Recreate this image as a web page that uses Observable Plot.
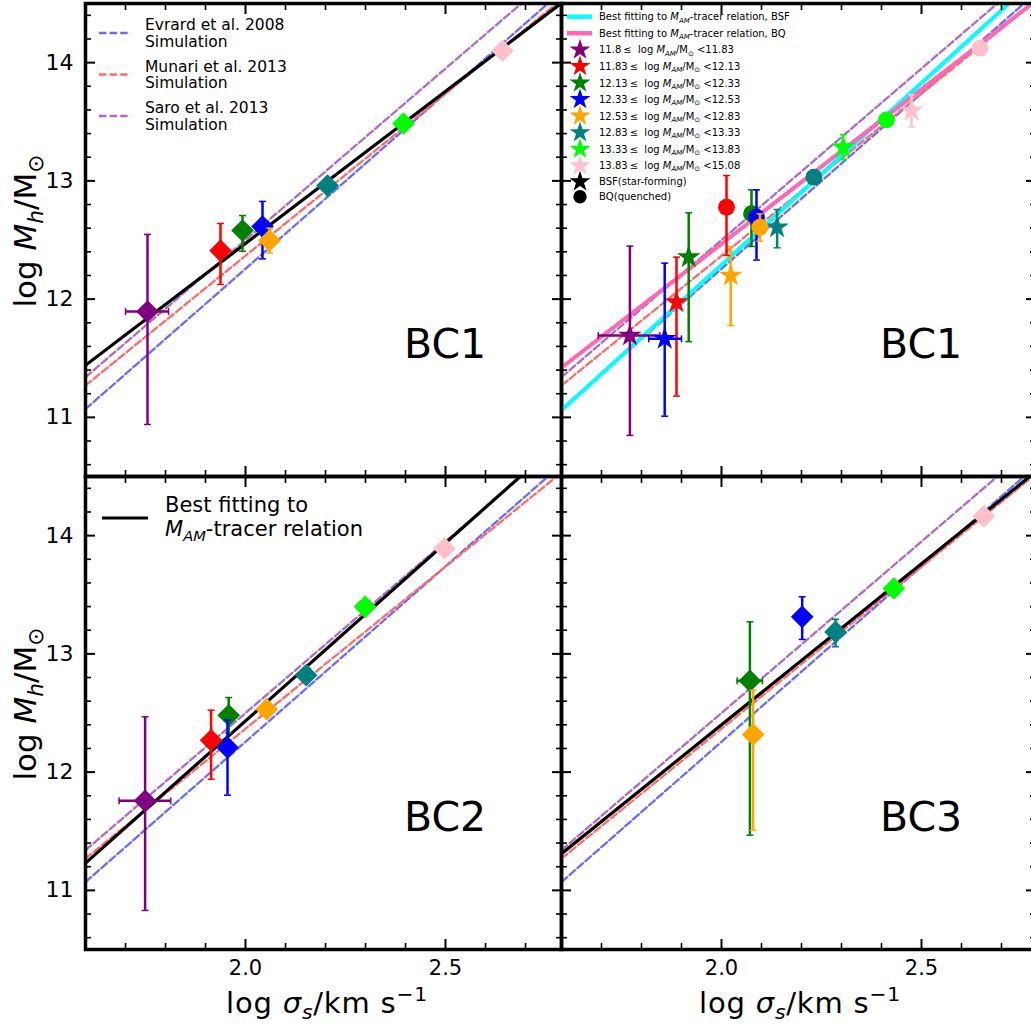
<!DOCTYPE html>
<html><head><meta charset="utf-8">
<script src="https://cdn.jsdelivr.net/npm/d3@7"></script>
<script src="https://cdn.jsdelivr.net/npm/@observablehq/plot@0.6"></script>
<style>
html,body{margin:0;padding:0;background:#fff;overflow:hidden;}
#fig{position:relative;width:1031px;height:1025px;overflow:hidden;background:#fff;font-family:"DejaVu Sans",sans-serif;}
#fig svg text{white-space:pre;}
</style></head>
<body><div id="fig"></div>
<script>
// ---------------- data ----------------
const binColors = ["purple","red","green","blue","orange","teal","lime","pink"];
const binLower  = ["11.8","11.83","12.13","12.33","12.53","12.83","13.33","13.83"];
const binUpper  = ["11.83","12.13","12.33","12.53","12.83","13.33","13.83","15.08"];

// straight relations, read at log sigma = 1.6 and 2.8
const lineX    = [1.6, 2.8];
const evrardY  = [11.07, 14.63];
const munariY  = [11.27, 14.56];
const saroY    = [11.34, 14.82];
const fitBC1Y  = [11.44, 14.53];
const fitBC2Y  = [11.23, 14.84];
const fitBC3Y  = [11.31, 14.58];
const fitBSFY  = [11.06, 14.75];
const fitBQY   = [11.42, 14.56];

// BC1 (all galaxies)
const bc1Bin = [0,1,2,3,4,5,6,7];
const bc1X   = [1.755, 1.9375, 1.9925, 2.0425, 2.06, 2.205, 2.395, 2.6425];
const bc1Y   = [11.895, 12.41, 12.58, 12.614, 12.496, 12.96, 13.485, 14.10];
const bc1YLo = [10.94, 12.124, 12.405, 12.34, 12.39, 12.91, 13.45, 14.07];
const bc1YHi = [12.547, 12.64, 12.707, 12.826, 12.60, 13.01, 13.52, 14.13];
const bc1XLo = [1.70, null, null, null, null, null, null, null];
const bc1XHi = [1.8075, null, null, null, null, null, null, null];

// BC2
const bc2Bin = [0,1,2,3,4,5,6,7];
const bc2X   = [1.749, 1.914, 1.958, 1.955, 2.053, 2.1517, 2.299, 2.4975];
const bc2Y   = [11.757, 12.27, 12.481, 12.208, 12.532, 12.82, 13.398, 13.891];
const bc2YLo = [10.83, 11.94, 12.33, 11.805, 12.47, 12.78, 13.36, 13.86];
const bc2YHi = [12.468, 12.524, 12.631, 12.44, 12.59, 12.86, 13.43, 13.92];
const bc2XLo = [1.684, null, null, null, null, null, null, null];
const bc2XHi = [1.813, null, null, null, null, null, null, null];

// BC3
const bc3Bin = [2,3,4,5,6,7];
const bc3X   = [2.071, 2.2017, 2.079, 2.285, 2.431, 2.656];
const bc3Y   = [12.772, 13.313, 12.318, 13.186, 13.553, 14.164];
const bc3YLo = [11.467, 13.122, 11.509, 13.06, 13.52, 14.13];
const bc3YHi = [13.271, 13.483, 12.693, 13.293, 13.59, 14.20];
const bc3XLo = [2.039, null, null, null, null, null];
const bc3XHi = [2.1025, null, null, null, null, null];

// BC1 split: BSF (stars)
const bsfBin = [0,1,2,3,4,5,6,7];
const bsfX   = [1.771, 1.8875, 1.918, 1.858, 2.023, 2.139, 2.304, 2.475];
const bsfY   = [11.692, 11.974, 12.355, 11.664, 12.20, 12.608, 13.285, 13.595];
const bsfYLo = [10.847, 11.18, 11.64, 11.01, 11.777, 12.434, 13.178, 13.454];
const bsfYHi = [12.448, 12.355, 12.73, 12.304, 12.445, 12.758, 13.39, 13.728];
const bsfXLo = [1.692, null, null, 1.818, null, null, null, null];
const bsfXHi = [1.846, null, null, 1.90, null, null, null, null];

// BC1 split: BQ (circles)
const bqBin = [1,2,3,4,5,6,7];
const bqX   = [2.0125, 2.075, 2.0875, 2.096, 2.231, 2.4125, 2.646];
const bqY   = [12.777, 12.722, 12.693, 12.608, 13.031, 13.516, 14.122];
const bqYLo = [12.369, 12.445, 12.33, 12.49, 12.99, 13.48, 14.09];
const bqYHi = [13.045, 12.924, 12.924, 12.721, 13.07, 13.55, 14.15];

// tick values
const xMajor = [2.0, 2.5];
const xMinor = [1.7, 1.8, 1.9, 2.1, 2.2, 2.3, 2.4, 2.6, 2.7];
const yMajor = [11, 12, 13, 14];
const yMinor = [10.6, 10.8, 11.2, 11.4, 11.6, 11.8, 12.2, 12.4, 12.6, 12.8, 13.2, 13.4, 13.6, 13.8, 14.2, 14.4];

// ---------------- helpers ----------------
const fig = document.getElementById("fig");
const cEvrard = "#6a6aff", cMunari = "#ff6a6a", cSaro = "#ad6bc4";
const dash = "7.4,3.2";
const capH = {draw(ctx){ctx.moveTo(-3.5,0); ctx.lineTo(3.5,0);}};
const capV = {draw(ctx){ctx.moveTo(0,-3.5); ctx.lineTo(0,3.5);}};

function rowsOf(bins, X, Y, YLo, YHi, XLo, XHi) {
  return bins.map((b, i) => ({color: binColors[b], x: X[i], y: Y[i], ylo: YLo[i], yhi: YHi[i],
    xlo: XLo ? XLo[i] : null, xhi: XHi ? XHi[i] : null}));
}
function lineMark(Y, stroke, strokeWidth, dasharray) {
  const data = lineX.map((x, i) => ({x, y: Y[i]}));
  return Plot.line(data, {x: "x", y: "y", stroke, strokeWidth, strokeDasharray: dasharray, clip: true});
}
function pointMarks(rows, symbol, r) {
  const m = [];
  for (const d of rows) {
    const data = [d];
    m.push(Plot.ruleX(data, {x: "x", y1: "ylo", y2: "yhi", stroke: d.color, strokeWidth: 2.5, clip: true}));
    m.push(Plot.dot(data, {x: "x", y: "ylo", symbol: capH, r: 4, stroke: d.color, strokeWidth: 1.5, fill: "none", clip: true}));
    m.push(Plot.dot(data, {x: "x", y: "yhi", symbol: capH, r: 4, stroke: d.color, strokeWidth: 1.5, fill: "none", clip: true}));
    if (d.xlo != null) {
      m.push(Plot.ruleY(data, {y: "y", x1: "xlo", x2: "xhi", stroke: d.color, strokeWidth: 2.5, clip: true}));
      m.push(Plot.dot(data, {x: "xlo", y: "y", symbol: capV, r: 4, stroke: d.color, strokeWidth: 1.5, fill: "none", clip: true}));
      m.push(Plot.dot(data, {x: "xhi", y: "y", symbol: capV, r: 4, stroke: d.color, strokeWidth: 1.5, fill: "none", clip: true}));
    }
    m.push(Plot.dot(data, {x: "x", y: "y", symbol, r, fill: d.color, stroke: "none", clip: true}));
  }
  return m;
}
const noText = () => "";
function axes(labelLeft, labelBottom) {
  const m = [];
  for (const a of ["top", "bottom"]) {
    m.push(Plot.axisX(xMinor, {anchor: a, tickSize: -6, strokeWidth: 1.6, tickFormat: noText, label: null}));
    m.push(Plot.axisX(xMajor, {anchor: a, tickSize: -10, strokeWidth: 2, tickFormat: noText, label: null}));
  }
  for (const a of ["left", "right"]) {
    m.push(Plot.axisY(yMinor, {anchor: a, tickSize: -6, strokeWidth: 1.6, tickFormat: noText, label: null}));
    m.push(Plot.axisY(yMajor, {anchor: a, tickSize: -10, strokeWidth: 2, tickFormat: noText, label: null}));
  }
  if (labelLeft) m.push(Plot.axisY(yMajor, {anchor: "left", tickSize: 0, tickPadding: 12, fontSize: 22, tickFormat: d3.format("d"), label: null}));
  if (labelBottom) m.push(Plot.axisX(xMajor, {anchor: "bottom", tickSize: 0, tickPadding: 11, fontSize: 21, tickFormat: d3.format(".1f"), label: null}));
  m.push(Plot.frame({stroke: "black", strokeWidth: 3.5}));
  return m;
}
function panel(o) {
  const p = Plot.plot({
    width: o.width, height: o.height,
    marginLeft: o.mL, marginRight: o.mR, marginTop: o.mT, marginBottom: o.mB,
    x: {domain: [1.6, o.xmax], label: null},
    y: {domain: [10.5, 14.5], label: null},
    style: {fontFamily: "DejaVu Sans", color: "black", background: "transparent", overflow: "visible"},
    marks: [...o.marks, ...axes(o.labelLeft, o.labelBottom)]
  });
  p.style.position = "absolute";
  p.style.left = o.left + "px";
  p.style.top = o.top + "px";
  p.style.maxWidth = "none";
  fig.appendChild(p);
}
const simLines = () => [
  lineMark(evrardY, cEvrard, 2.3, dash),
  lineMark(munariY, cMunari, 2.3, dash),
  lineMark(saroY, cSaro, 2.3, dash)
];

// ---------------- panels ----------------
panel({left: 0, top: 0, width: 566, height: 480, mL: 85, mR: 5, mT: 3, mB: 4, xmax: 2.79,
  labelLeft: true, labelBottom: false,
  marks: [...simLines(), lineMark(fitBC1Y, "black", 3.2, null),
          ...pointMarks(rowsOf(bc1Bin, bc1X, bc1Y, bc1YLo, bc1YHi, bc1XLo, bc1XHi), "diamond2", 10.2)]});

panel({left: 556, top: 0, width: 484, height: 480, mL: 5, mR: 5, mT: 3, mB: 4, xmax: 2.785,
  labelLeft: false, labelBottom: false,
  marks: [...simLines(), lineMark(fitBSFY, "#00ffff", 4, null), lineMark(fitBQY, "#ff69b4", 4, null),
          ...pointMarks(rowsOf(bsfBin, bsfX, bsfY, bsfYLo, bsfYHi, bsfXLo, bsfXHi), "star", 7.4),
          ...pointMarks(rowsOf(bqBin, bqX, bqY, bqYLo, bqYHi, null, null), "circle", 8.4)]});

panel({left: 0, top: 471, width: 566, height: 554, mL: 85, mR: 5, mT: 5, mB: 76, xmax: 2.79,
  labelLeft: true, labelBottom: true,
  marks: [...simLines(), lineMark(fitBC2Y, "black", 3.2, null),
          ...pointMarks(rowsOf(bc2Bin, bc2X, bc2Y, bc2YLo, bc2YHi, bc2XLo, bc2XHi), "diamond2", 10.2)]});

panel({left: 556, top: 471, width: 484, height: 554, mL: 5, mR: 5, mT: 5, mB: 76, xmax: 2.785,
  labelLeft: false, labelBottom: true,
  marks: [...simLines(), lineMark(fitBC3Y, "black", 3.2, null),
          ...pointMarks(rowsOf(bc3Bin, bc3X, bc3Y, bc3YLo, bc3YHi, bc3XLo, bc3XHi), "diamond2", 10.2)]});

// ---------------- labels & legends (overlay) ----------------
const svg = d3.select(fig).append("svg")
  .attr("width", 1031).attr("height", 1025)
  .style("position", "absolute").style("left", "0px").style("top", "0px")
  .attr("font-family", "DejaVu Sans");

function rich(parent, x, y, parts, size, anchor, transform) {
  const t = parent.append("text").attr("x", x).attr("y", y).attr("font-size", size)
    .attr("text-anchor", anchor || "start").attr("fill", "black");
  if (transform) t.attr("transform", transform);
  let shift = 0;
  for (const [s, st] of parts) {
    const isSub = st === "sub" || st === "isub";
    const isSup = st === "sup";
    const isIt = st === "i" || st === "isub";
    const target = isSub ? 0.22 * size : isSup ? -0.42 * size : 0;
    const ts = t.append("tspan").text(s).attr("dy", (target - shift).toFixed(2))
      .attr("font-size", (isSub || isSup) ? 0.7 * size : size);
    if (isIt) ts.attr("font-style", "italic");
    shift = target;
  }
  return t;
}

// axis titles
const yTitle = [["log ", ""], ["M", "i"], ["h", "isub"], ["/M", ""], ["\u2299", "sub"]];
const xTitle = [["log ", ""], ["\u03c3", "i"], ["s", "isub"], ["/km s", ""], ["\u22121", "sup"]];
rich(svg, 36, 231, yTitle, 31, "middle", "rotate(-90,36,231)");
rich(svg, 36, 704, yTitle, 31, "middle", "rotate(-90,36,704)");
rich(svg, 327, 1013, xTitle, 29, "middle").attr("letter-spacing", 0.8);
rich(svg, 800, 1013, xTitle, 29, "middle").attr("letter-spacing", 0.8);

// panel names
const panelNames = ["BC1", "BC1", "BC2", "BC3"];
[[404, 358], [880, 358], [404, 831], [880, 831]].forEach(([x, y], i) =>
  svg.append("text").attr("x", x).attr("y", y).attr("font-size", 41).text(panelNames[i]));

// top-left legend
const simNames = ["Evrard et al. 2008", "Munari et al. 2013", "Saro et al. 2013"];
const simColors = [cEvrard, cMunari, cSaro];
simNames.forEach((n, i) => {
  const yc = 33 + i * 41.5;
  svg.append("line").attr("x1", 99).attr("x2", 131).attr("y1", yc).attr("y2", yc)
    .attr("stroke", simColors[i]).attr("stroke-width", 2.3).attr("stroke-dasharray", dash);
  svg.append("text").attr("x", 145).attr("y", yc - 3).attr("font-size", 15.5).text(n);
  svg.append("text").attr("x", 145).attr("y", yc + 13.5).attr("font-size", 15.5).text("Simulation");
});

// bottom-left legend
svg.append("line").attr("x1", 102).attr("x2", 148).attr("y1", 518).attr("y2", 518)
  .attr("stroke", "black").attr("stroke-width", 3.2);
svg.append("text").attr("x", 165).attr("y", 512).attr("font-size", 21).text("Best fitting to");
rich(svg, 165, 536, [["M", "i"], ["AM", "isub"], ["-tracer relation", ""]], 21);

// top-right legend
const lg = svg.append("g");
const fs = 10;
function rowY(i) { return i < 10 ? 16.7 + i * 16.55 : (i === 10 ? 181.7 : 196.7); }
[["#00ffff", "BSF"], ["#ff69b4", "BQ"]].forEach(([c, t], i) => {
  const y = rowY(i);
  lg.append("line").attr("x1", 567).attr("x2", 592).attr("y1", y).attr("y2", y)
    .attr("stroke", c).attr("stroke-width", 4.5);
  rich(lg, 599, y + 3.6, [["Best fitting to ", ""], ["M", "i"], ["AM", "isub"], ["-tracer relation, " + t, ""]], fs);
});
const starPath = d3.symbol(d3.symbolStar, 136)();
binColors.forEach((c, k) => {
  const y = rowY(k + 2);
  lg.append("path").attr("d", starPath).attr("transform", `translate(580,${y})`).attr("fill", c);
  rich(lg, 599, y + 3.6, [[binLower[k] + "\u2009\u2264  log ", ""], ["M", "i"], ["AM", "isub"], ["/M", ""], ["\u2299", "sub"], [" <" + binUpper[k], ""]], fs);
});
lg.append("path").attr("d", starPath).attr("transform", `translate(580,${rowY(10)})`).attr("fill", "black");
lg.append("text").attr("x", 599).attr("y", rowY(10) + 3.6).attr("font-size", fs).text("BSF(star-forming)");
lg.append("circle").attr("cx", 580).attr("cy", rowY(11)).attr("r", 6.7).attr("fill", "black");
lg.append("text").attr("x", 599).attr("y", rowY(11) + 3.6).attr("font-size", fs).text("BQ(quenched)");
</script>
</body></html>
